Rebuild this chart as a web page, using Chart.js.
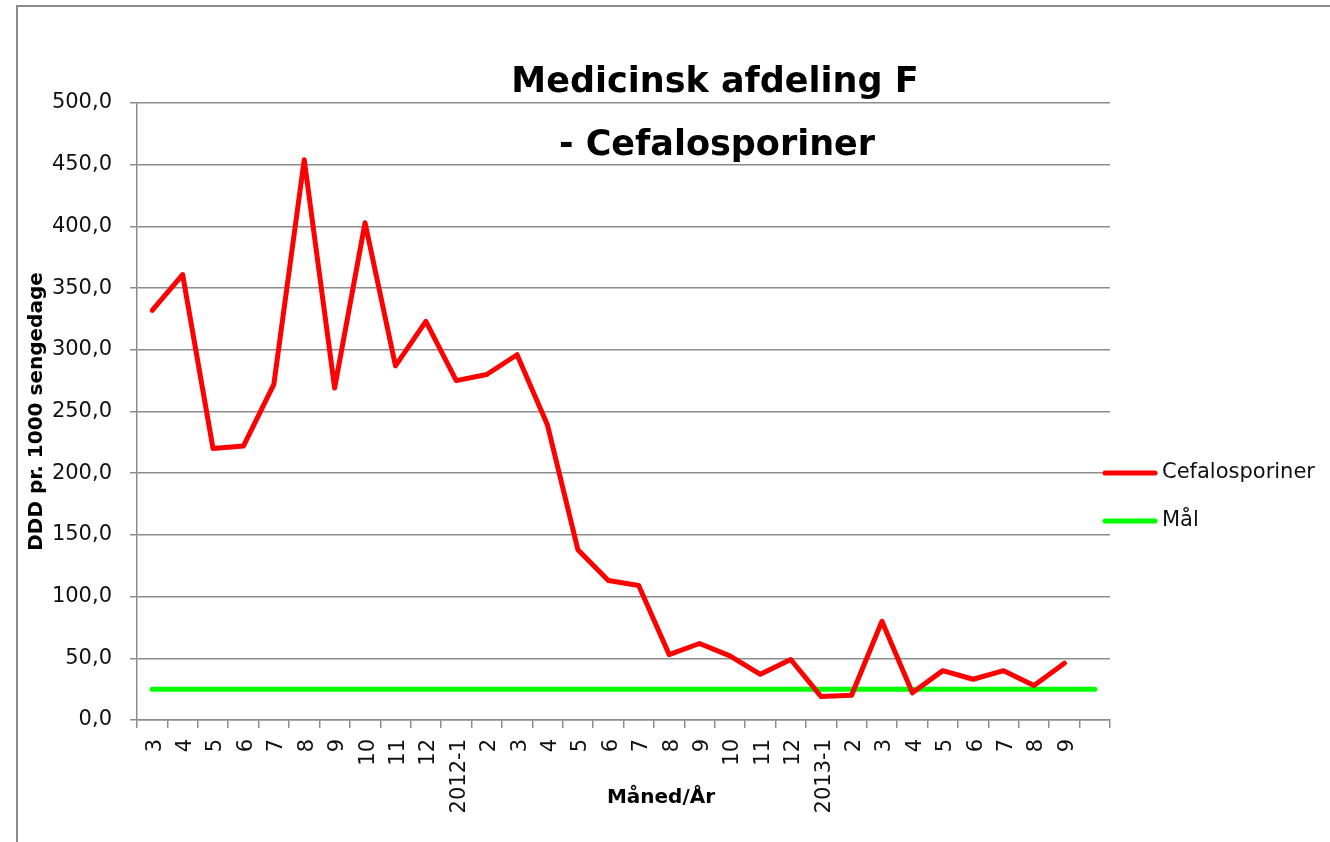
<!DOCTYPE html>
<html>
<head>
<meta charset="utf-8">
<title>Medicinsk afdeling F - Cefalosporiner</title>
<script src="https://cdn.jsdelivr.net/npm/chart.js@4"></script>
<style>
    html, body { margin: 0; padding: 0; background: #fff; }
    body { width: 1330px; height: 842px; overflow: hidden; position: relative; }
    #frame {
        position: absolute; left: 16px; top: 5px; width: 1400px; height: 900px;
        border-left: 2px solid #8a8a8a; border-top: 2px solid #8a8a8a;
    }
    #chart { position: absolute; left: 0; top: 0; }
</style>
</head>
<body>
<div id="frame"></div>
<canvas id="chart" width="1330" height="842"></canvas>
<script>
// Month labels (Måned/År), the last slot is empty
const months = ['3', '4', '5', '6', '7', '8', '9', '10', '11', '12',
    '2012-1', '2', '3', '4', '5', '6', '7', '8', '9', '10', '11', '12',
    '2013-1', '2', '3', '4', '5', '6', '7', '8', '9', ''];

// DDD pr. 1000 sengedage
const cefalosporiner = [332, 361, 220, 222, 272, 454, 269, 403, 287, 323,
    275, 280, 296, 239, 138, 113, 109, 53, 62, 52, 37, 49,
    19, 20, 80, 22, 40, 33, 40, 28, 46];

// Target line (Mål)
const maal = [25, 25, 25, 25, 25, 25, 25, 25, 25, 25,
    25, 25, 25, 25, 25, 25, 25, 25, 25, 25, 25, 25,
    25, 25, 25, 25, 25, 25, 25, 25, 25, 25];

const titleLines = ['Medicinsk afdeling F', '- Cefalosporiner'];
const xTitle = 'Måned/År';
const yTitle = 'DDD pr. 1000 sengedage';

const gridColor = '#8c8c8c';
Chart.defaults.font.family = '"DejaVu Sans", sans-serif';
Chart.defaults.color = '#111';

// title, legend and x axis title drawn on top, Excel style
const overlayText = {
    id: 'overlayText',
    afterDraw(chart) {
        const ctx = chart.ctx;
        ctx.save();
        ctx.fillStyle = '#000';
        ctx.textAlign = 'center';
        ctx.textBaseline = 'alphabetic';
        ctx.font = 'bold 35px "DejaVu Sans"';
        ctx.fillText(titleLines[0], 715, 92);
        ctx.fillText(titleLines[1], 717, 155);

        ctx.font = 'bold 20px "DejaVu Sans"';
        ctx.fillText(xTitle, 661, 803);

        ctx.font = '21px "DejaVu Sans"';
        ctx.fillStyle = '#111';
        ctx.textAlign = 'left';
        ctx.textBaseline = 'middle';
        chart.data.datasets.forEach(function (ds, i) {
            const y = 473 + i * 48;
            ctx.strokeStyle = ds.borderColor;
            ctx.lineWidth = 5;
            ctx.lineCap = 'round';
            ctx.beginPath();
            ctx.moveTo(1105, y);
            ctx.lineTo(1155, y);
            ctx.stroke();
            ctx.fillText(ds.label, 1162, y);
        });
        ctx.restore();
    }
};

new Chart(document.getElementById('chart').getContext('2d'), {
    type: 'line',
    data: {
        labels: months,
        datasets: [{
            label: 'Cefalosporiner',
            data: cefalosporiner,
            borderColor: '#ff0000',
            backgroundColor: '#ff0000',
            borderWidth: 5,
            pointRadius: 0,
            tension: 0,
            borderJoinStyle: 'round',
            borderCapStyle: 'round',
        }, {
            label: 'Mål',
            data: maal,
            borderColor: '#00ff00',
            backgroundColor: '#00ff00',
            borderWidth: 5,
            pointRadius: 0,
            tension: 0,
            borderCapStyle: 'round',
        }]
    },
    options: {
        responsive: false,
        animation: false,
        layout: { padding: { left: 20, top: 103, right: 220, bottom: 0 } },
        plugins: {
            legend: { display: false },
            tooltip: { enabled: false }
        },
        scales: {
            x: {
                offset: true,
                afterFit: function (scale) { scale.height = 122; },
                grid: {
                    display: true,
                    offset: true,
                    drawOnChartArea: false,
                    drawTicks: true,
                    tickLength: 8,
                    color: gridColor,
                    lineWidth: 1.5
                },
                border: { display: true, color: gridColor, width: 1.5 },
                ticks: {
                    autoSkip: false,
                    maxRotation: 90,
                    minRotation: 90,
                    padding: 11,
                    labelOffset: 3,
                    font: { size: 21 }
                }
            },
            y: {
                min: 0,
                max: 500,
                afterFit: function (scale) { scale.width = 117; },
                grid: {
                    color: gridColor,
                    lineWidth: 1.5,
                    drawTicks: true,
                    tickLength: 7
                },
                border: { display: true, color: gridColor, width: 1.5 },
                ticks: {
                    stepSize: 50,
                    padding: 18,
                    font: { size: 21 },
                    callback: function (value) {
                        return value.toFixed(1).replace('.', ',');
                    }
                },
                title: {
                    display: true,
                    text: yTitle,
                    color: '#000',
                    font: { size: 20, weight: 'bold' },
                    padding: { top: 5, bottom: 0 }
                }
            }
        }
    },
    plugins: [overlayText]
});
</script>
</body>
</html>
